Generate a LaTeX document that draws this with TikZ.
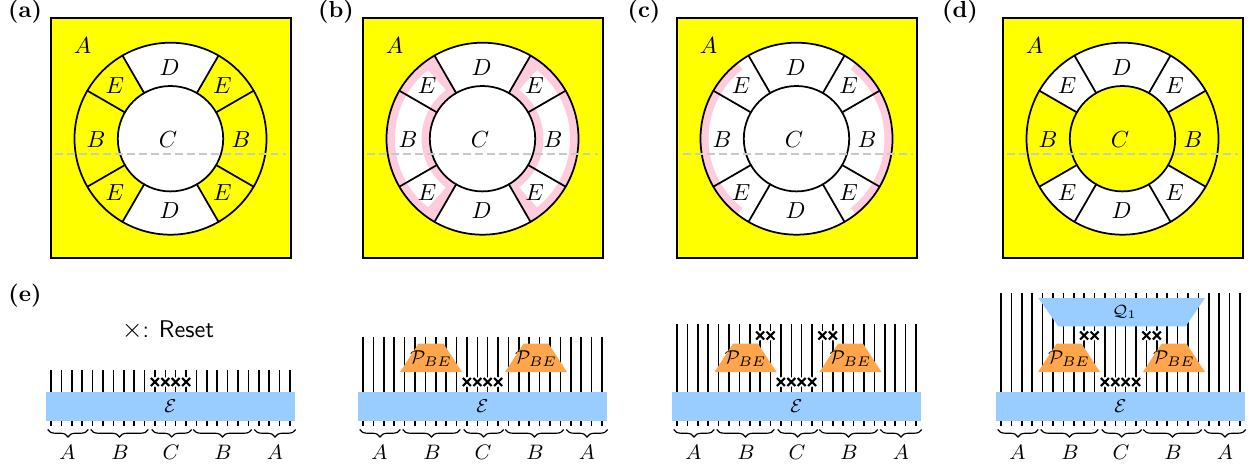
\documentclass[tikz,border=0pt]{standalone}
\usepackage{graphicx}
\usetikzlibrary{decorations.pathreplacing}
\definecolor{ringyellow}{HTML}{FFFF00}
\definecolor{ringpink}{HTML}{FFCCDD}
\definecolor{barblue}{HTML}{99CCFF}
\definecolor{traporange}{HTML}{FFA64D}
\definecolor{cutgray}{HTML}{C8C8C8}
\tikzset{
  frame/.style={draw=black,fill=ringyellow,line width=.75pt},
  ringline/.style={draw=black,line width=.75pt,line cap=round},
  cutline/.style={draw=cutgray,line width=.85pt,dash pattern=on 3.4pt off 1.75pt},
  qline/.style={draw=black,line width=.68pt},
  bar/.style={fill=barblue},
  trap/.style={fill=traporange},
  resetmark/.style={draw=black,line width=.9pt},
  resethalo/.style={draw=white,line width=2.6pt},
  bracemark/.style={draw=black,line width=.5pt,decorate,decoration={brace,mirror,amplitude=3.2pt}},
  plain/.style={inner sep=0pt,outer sep=0pt},
  small/.style={inner sep=0pt,outer sep=0pt,font=\fontsize{9}{11}\selectfont},
  tiny8/.style={inner sep=0pt,outer sep=0pt,font=\fontsize{8}{10}\selectfont},
  panellabel/.style={inner sep=0pt,outer sep=0pt,font=\bfseries}
}
\def\Ro{96}\def\Ri{52.7}
\newcommand\sectorfill[3]{\fill[#1] (#2:\Ro) arc[start angle=#2,end angle=#3,radius=\Ro] -- (#3:\Ri) arc[start angle=#3,end angle=#2,radius=\Ri] -- cycle;}
% white inset that leaves a pink rim
\newcommand\insetfill[1]{\fill[white] (#1+51.5:87.5) arc[start angle=#1+51.5,end angle=#1-51.5,radius=87.5] -- (#1-53:61) arc[start angle=#1-53,end angle=#1+53,radius=61] -- cycle;}
\newcommand\rimfill[1]{\fill[ringpink] (#1+52:\Ro) arc[start angle=#1+52,end angle=#1-52,radius=\Ro] -- (#1-52:88) arc[start angle=#1-52,end angle=#1+52,radius=88] -- cycle;}
\newcommand\ringlines[1]{%
  \draw[ringline] (0,0) circle[radius=\Ro];
  \draw[ringline] (0,0) circle[radius=\Ri];
  \foreach \ang in {30,60,120,150,210,240,300,330}
    \draw[ringline] (\ang:\Ri) -- (\ang:\Ro);
  \node[plain] (#1A)  at (-88,92.7) {$A$};
  \node[plain] (#1D1) at (-1,71.5) {$D$};
  \node[plain] (#1D2) at (-1,-71.5) {$D$};
  \node[plain] (#1E1) at (-55.5,53.5) {$E$};
  \node[plain] (#1E2) at (52,53.5) {$E$};
  \node[plain] (#1E3) at (-55.5,-53.5) {$E$};
  \node[plain] (#1E4) at (52,-53.5) {$E$};
  \node[plain] (#1B1) at (-74.5,-.5) {$B$};
  \node[plain] (#1B2) at (70.5,-.5) {$B$};
  \node[plain] (#1C)  at (-2.5,-1) {$C$};
}
\newcommand\resetat[2]{%
  \pgfmathsetmacro\xx{51+#1*10.39}
  \draw[resethalo] (\xx-4,#2-4) -- (\xx+4,#2+4) (\xx-4,#2+4) -- (\xx+4,#2-4);
  \draw[resetmark] (\xx-4,#2-4) -- (\xx+4,#2+4) (\xx-4,#2+4) -- (\xx+4,#2-4);
}
\newcommand\lowerrow[3]{% offset, top of lines, name
  \begin{scope}[xshift=#1*.43pt]
    \foreach \k in {0,...,23}{
      \pgfmathsetmacro\xx{51+\k*10.39}
      \draw[qline] (\xx,41.3) -- (\xx,#2);
    }
    \fill[bar] (46,46.3) rectangle (295,75.3);
    \node[tiny8] (#3eps) at (170.5,60.5) {$\mathcal{E}$};
    \draw[bracemark] (47.7,37.5) -- (88.3,37.5);
    \draw[bracemark] (90.7,37.5) -- (148.3,37.5);
    \draw[bracemark] (151.7,37.5) -- (191.7,37.5);
    \draw[bracemark] (193.3,37.5) -- (251.7,37.5);
    \draw[bracemark] (254.3,37.5) -- (295.7,37.5);
    \node[small] (#3a1) at (67.5,15) {$A$};
    \node[small] (#3b1) at (120,15) {$B$};
    \node[small] (#3c)  at (171,15) {$C$};
    \node[small] (#3b2) at (223,15) {$B$};
    \node[small] (#3a2) at (275,15) {$A$};
    \foreach \k in {10,...,13}{\resetat{\k}{85}}
  \end{scope}
}
\newcommand\trapezoids[2]{% offset, name
  \begin{scope}[xshift=#1*.43pt]
    \fill[trap] (88,95) -- (150,95) -- (131.5,123.3) -- (106.5,123.3) -- cycle;
    \node[tiny8] (#2p1) at (119,108.5) {$\mathcal{P}_{BE}$};
    \fill[trap] (193,95) -- (255,95) -- (236.5,123.3) -- (211.5,123.3) -- cycle;
    \node[tiny8] (#2p2) at (224,108.5) {$\mathcal{P}_{BE}$};
  \end{scope}
}
\newcommand\upperresets[1]{%
  \begin{scope}[xshift=#1*.43pt]
    \resetat{8}{131.5}\resetat{9}{131.5}\resetat{14}{131.5}\resetat{15}{131.5}
  \end{scope}
}
\begin{document}
\begin{tikzpicture}[x=.43pt,y=.43pt]
\useasboundingbox (0,0) rectangle (1252,467);
% panel labels
\node[panellabel] (la) at (25,455) {(a)};
\node[panellabel] (lb) at (336,455) {(b)};
\node[panellabel] (lc) at (644,455) {(c)};
\node[panellabel] (ld) at (960,455) {(d)};
\node[panellabel] (le) at (25,171) {(e)};
% (a)
\draw[frame] (51,209) rectangle (291,449);
\begin{scope}[shift={(170.5,328.3)}]
  \fill[white] (0,0) circle[radius=\Ro];
  \sectorfill{ringyellow}{-60}{60}
  \sectorfill{ringyellow}{120}{240}
  \fill[white] (0,0) circle[radius=\Ri];
  \ringlines{pa}
\end{scope}
\draw[cutline] (55,313) -- (286,313);
% (b)
\draw[frame] (363,209) rectangle (603,449);
\begin{scope}[shift={(482.5,328.3)}]
  \fill[white] (0,0) circle[radius=\Ro];
  \sectorfill{ringpink}{-60}{60}
  \sectorfill{ringpink}{120}{240}
  \insetfill{0}
  \insetfill{180}
  \ringlines{pb}
\end{scope}
\draw[cutline] (367,313) -- (598,313);
% (c)
\draw[frame] (677,209) rectangle (917,449);
\begin{scope}[shift={(796.5,328.3)}]
  \fill[white] (0,0) circle[radius=\Ro];
  \rimfill{0}
  \rimfill{180}
  \ringlines{pc}
\end{scope}
\draw[cutline] (683,313) -- (913,313);
% (d)
\draw[frame] (1003,209) rectangle (1243,449);
\begin{scope}[shift={(1122.5,328.3)}]
  \fill[white] (0,0) circle[radius=\Ro];
  \sectorfill{ringyellow}{-30}{30}
  \sectorfill{ringyellow}{150}{210}
  \fill[ringyellow] (0,0) circle[radius=\Ri];
  \ringlines{pd}
\end{scope}
\draw[cutline] (1007,313) -- (1238,313);
% (e) legend
\node[plain] (legend) at (168,137) {\scalebox{1.15}{$\times$}\textsf{:}\hspace{4.2pt}\scalebox{1.04}{\textsf{Reset}}};
% (e) rows
\lowerrow{0}{97}{ra}
\lowerrow{312}{130.3}{rb}
\trapezoids{312}{rb}
\lowerrow{626}{143}{rc}
\trapezoids{626.5}{rc}
\upperresets{626}
\lowerrow{950}{173.7}{rd}
\trapezoids{950}{rd}
\upperresets{950}
\fill[bar] (1038.3,169) -- (1205,169) -- (1185.7,140.7) -- (1058.3,140.7) -- cycle;
\node[plain] (rdq) at (1124.5,155) {$\scriptstyle\mathcal{Q}_1$};
\end{tikzpicture}
\end{document}
